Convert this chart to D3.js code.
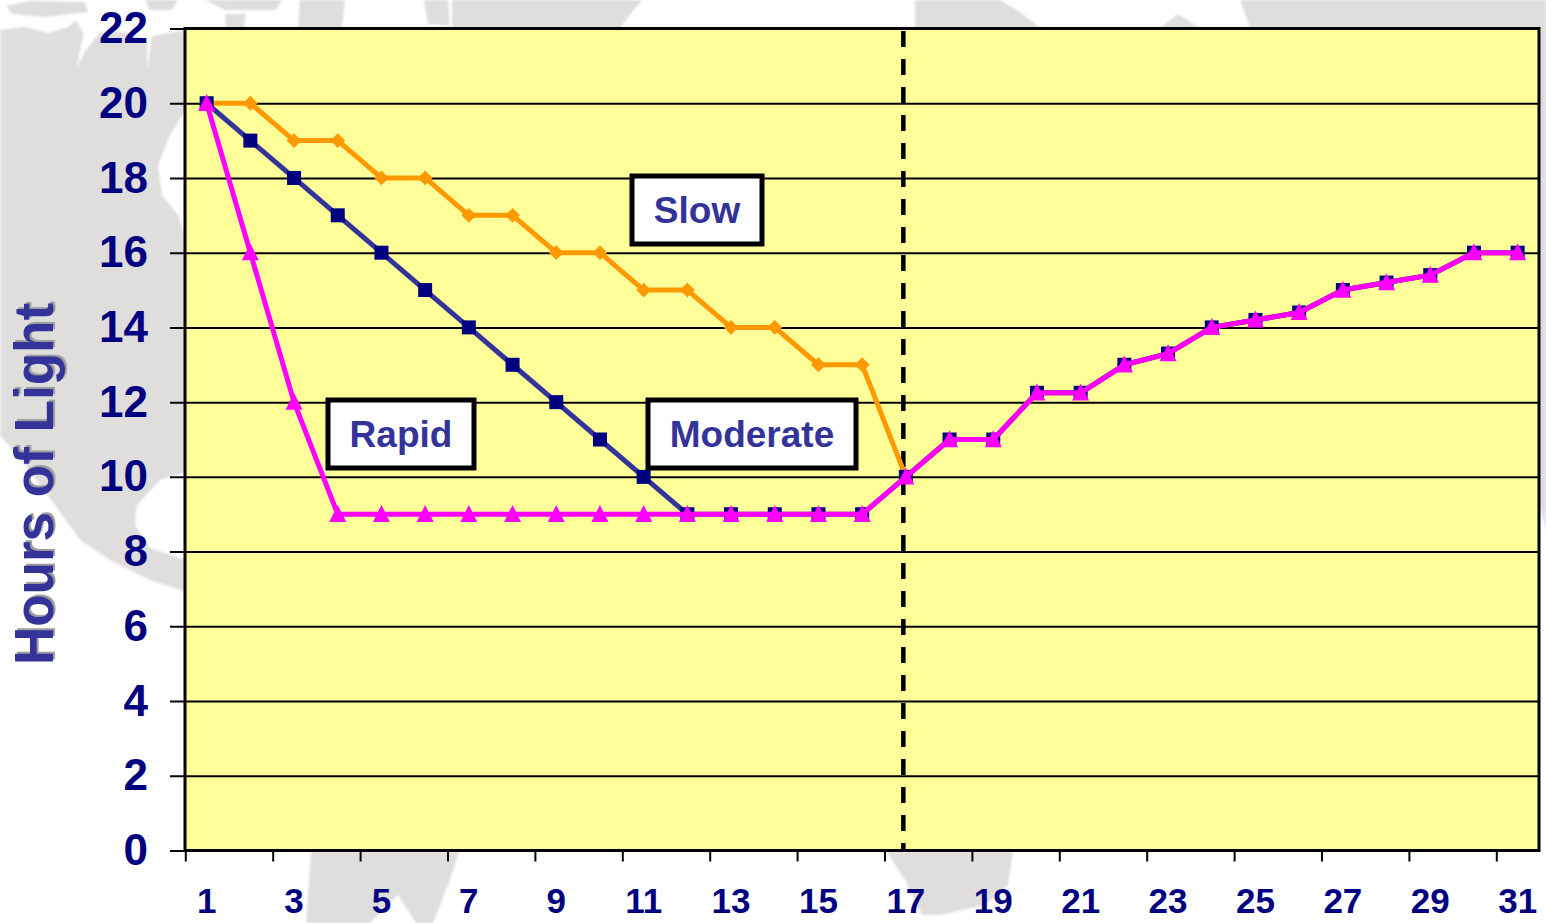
<!DOCTYPE html>
<html>
<head>
<meta charset="utf-8">
<script src="https://cdn.jsdelivr.net/npm/d3@7"></script>
<style>
    html, body { margin: 0; padding: 0; background: #fff; overflow: hidden; }
    svg { display: block; }
    text { font-family: "Liberation Sans", Arial, sans-serif; font-weight: bold; }
    .tick-y text { font-size: 44px; fill: #000080; }
    .tick-x text { font-size: 35px; fill: #000080; }
</style>
</head>
<body>
<svg id="chart" width="1546" height="923"></svg>
<script>
var days = d3.range(1, 32);
var tailValues = [11, 11, 12.25, 12.25, 13, 13.3, 14, 14.2, 14.4, 15, 15.2, 15.4, 16, 16];
var slowValues = [20, 20, 19, 19, 18, 18, 17, 17, 16, 16, 15, 15, 14, 14, 13, 13, 10].concat(tailValues);
var moderateValues = [20, 19, 18, 17, 16, 15, 14, 13, 12, 11, 10, 9, 9, 9, 9, 9, 10].concat(tailValues);
var rapidValues = [20, 16, 12, 9, 9, 9, 9, 9, 9, 9, 9, 9, 9, 9, 9, 9, 10].concat(tailValues);
var yTicks = d3.range(0, 23, 2);
var xTicks = days.filter(function(d) { return d % 2 === 1; });
var solsticeDay = 17;

// faint world map behind the chart, decoration only
var mapShapes = [
    [[0,30],[25,27],[48,33],[68,27],[76,20],[84,34],[76,68],[86,50],[100,32],[128,32],[147,42],[147,70],[152,36],[186,30],[186,110],[170,135],[158,165],[162,195],[178,215],[186,240],[186,472],[160,480],[137,505],[135,525],[150,548],[186,560],[186,592],[150,580],[110,560],[80,540],[55,505],[25,465],[0,435]],
    [[6,6],[30,1],[85,2],[88,12],[45,17],[12,14]],
    [[145,0],[178,0],[172,10],[150,10]],
    [[205,0],[282,0],[276,10],[225,10]],
    [[225,14],[246,14],[244,28],[226,28]],
    [[300,0],[345,0],[342,28],[298,28]],
    [[424,0],[448,0],[450,26],[428,24]],
    [[452,0],[642,0],[632,12],[620,28],[452,28]],
    [[915,0],[1000,0],[1020,12],[1040,28],[915,28]],
    [[1160,28],[1178,14],[1200,28]],
    [[1240,0],[1546,0],[1546,530],[1538,500],[1538,28],[1250,28]],
    [[311,852],[459,852],[450,880],[433,923],[416,923],[398,895],[370,923],[306,923]],
    [[887,852],[1013,852],[1008,885],[985,905],[940,915],[922,915],[905,880]]
];

var width = 1546;
var height = 923;
var margin = {left: 185, right: 7, top: 28.5, bottom: 72.5};

var svg = d3.select('#chart');

var x = d3.scaleBand()
    .domain(days)
    .range([184.8, 1539.5]);

var y = d3.scaleLinear()
    .domain([0, 22])
    .range([height - margin.bottom, margin.top]);

var mapLine = d3.line().curve(d3.curveLinearClosed);

// taller than the equilateral d3.symbolTriangle
var tallTriangle = {
    draw: function(context, size) {
        context.moveTo(0, -size * 0.55);
        context.lineTo(size / 2, size * 0.45);
        context.lineTo(-size / 2, size * 0.45);
        context.closePath();
    }
};

svg.append('defs').append('filter')
    .attr('id', 'soft')
    .append('feGaussianBlur')
    .attr('stdDeviation', 1);

svg.append('g')
    .attr('filter', 'url(#soft)')
    .selectAll('path')
    .data(mapShapes)
    .join('path')
    .attr('d', mapLine)
    .attr('fill', '#e0dddd');

svg.append('rect')
    .attr('x', margin.left)
    .attr('y', margin.top)
    .attr('width', width - margin.left - margin.right)
    .attr('height', height - margin.top - margin.bottom)
    .attr('fill', '#ffff99');

// grid lines run on from the y ticks
var yAxis = d3.axisLeft(y)
    .tickValues(yTicks)
    .tickSize(15)
    .tickPadding(22);

var gY = svg.append('g')
    .attr('class', 'tick-y')
    .attr('transform', 'translate(' + margin.left + ',0)')
    .call(yAxis);

gY.select('.domain').remove();
gY.selectAll('.tick line')
    .attr('x1', width - margin.left - margin.right)
    .attr('stroke', '#000')
    .attr('stroke-width', 2);

var xAxis = d3.axisBottom(x)
    .tickValues(xTicks)
    .tickSize(11)
    .tickPadding(27);

var gX = svg.append('g')
    .attr('class', 'tick-x')
    .attr('transform', 'translate(0,' + (height - margin.bottom) + ')')
    .call(xAxis);

gX.select('.domain').remove();
// ticks sit on the band edges, labels stay centred
gX.selectAll('.tick line')
    .attr('transform', 'translate(' + (1 - x.bandwidth() / 2) + ',0)')
    .attr('stroke', '#000')
    .attr('stroke-width', 2);

svg.append('rect')
    .attr('x', margin.left)
    .attr('y', margin.top)
    .attr('width', width - margin.left - margin.right)
    .attr('height', height - margin.top - margin.bottom)
    .attr('fill', 'none')
    .attr('stroke', '#000')
    .attr('stroke-width', 3);

svg.append('line')
    .attr('x1', x(solsticeDay) + x.bandwidth() / 2 - 2.5)
    .attr('x2', x(solsticeDay) + x.bandwidth() / 2 - 2.5)
    .attr('y1', margin.top + 2.5)
    .attr('y2', height - margin.bottom)
    .attr('stroke', '#000')
    .attr('stroke-width', 4.5)
    .attr('stroke-dasharray', '16,12');

var valueline = d3.line()
    .x(function(d, i) { return x(days[i]) + x.bandwidth() / 2; })
    .y(function(d) { return y(d); });

function drawSeries(values, lineColor, markerColor, symbol, size, rotate) {
    var g = svg.append('g');

    g.append('path')
        .attr('d', valueline(values))
        .attr('fill', 'none')
        .attr('stroke', lineColor)
        .attr('stroke-width', 5)
        .attr('stroke-linejoin', 'round');

    g.selectAll('path.marker')
        .data(values)
        .join('path')
        .attr('class', 'marker')
        .attr('d', d3.symbol().type(symbol).size(size))
        .attr('fill', markerColor)
        .attr('transform', function(d, i) {
            return 'translate(' + (x(days[i]) + x.bandwidth() / 2) + ',' + y(d) + ') rotate(' + rotate + ')';
        });
}

drawSeries(slowValues, '#ff9900', '#ff9900', d3.symbolSquare, 110, 45);
drawSeries(moderateValues, '#333399', '#000080', d3.symbolSquare, 196, 0);
drawSeries(rapidValues, '#ff00ff', '#ff00ff', tallTriangle, 17, 0);

function addLabel(name, left, top, w, h) {
    var g = svg.append('g');

    g.append('rect')
        .attr('x', left)
        .attr('y', top)
        .attr('width', w)
        .attr('height', h)
        .attr('fill', '#fff')
        .attr('stroke', '#000')
        .attr('stroke-width', 5);

    g.append('text')
        .attr('x', left + w / 2)
        .attr('y', top + h / 2 + 13)
        .attr('text-anchor', 'middle')
        .attr('fill', '#333399')
        .style('font-size', '37px')
        .text(name);
}

addLabel('Slow', 632, 176, 130, 68);
addLabel('Rapid', 328, 400, 146, 68);
addLabel('Moderate', 648, 400, 208, 68);

svg.append('text')
    .attr('transform', 'translate(53,484) rotate(-90) scale(1,1.04)')
    .attr('text-anchor', 'middle')
    .attr('fill', '#333399')
    .style('font-size', '53px')
    .style('text-shadow', '2px 2px 1px #999')
    .text('Hours of Light');
</script>
</body>
</html>
